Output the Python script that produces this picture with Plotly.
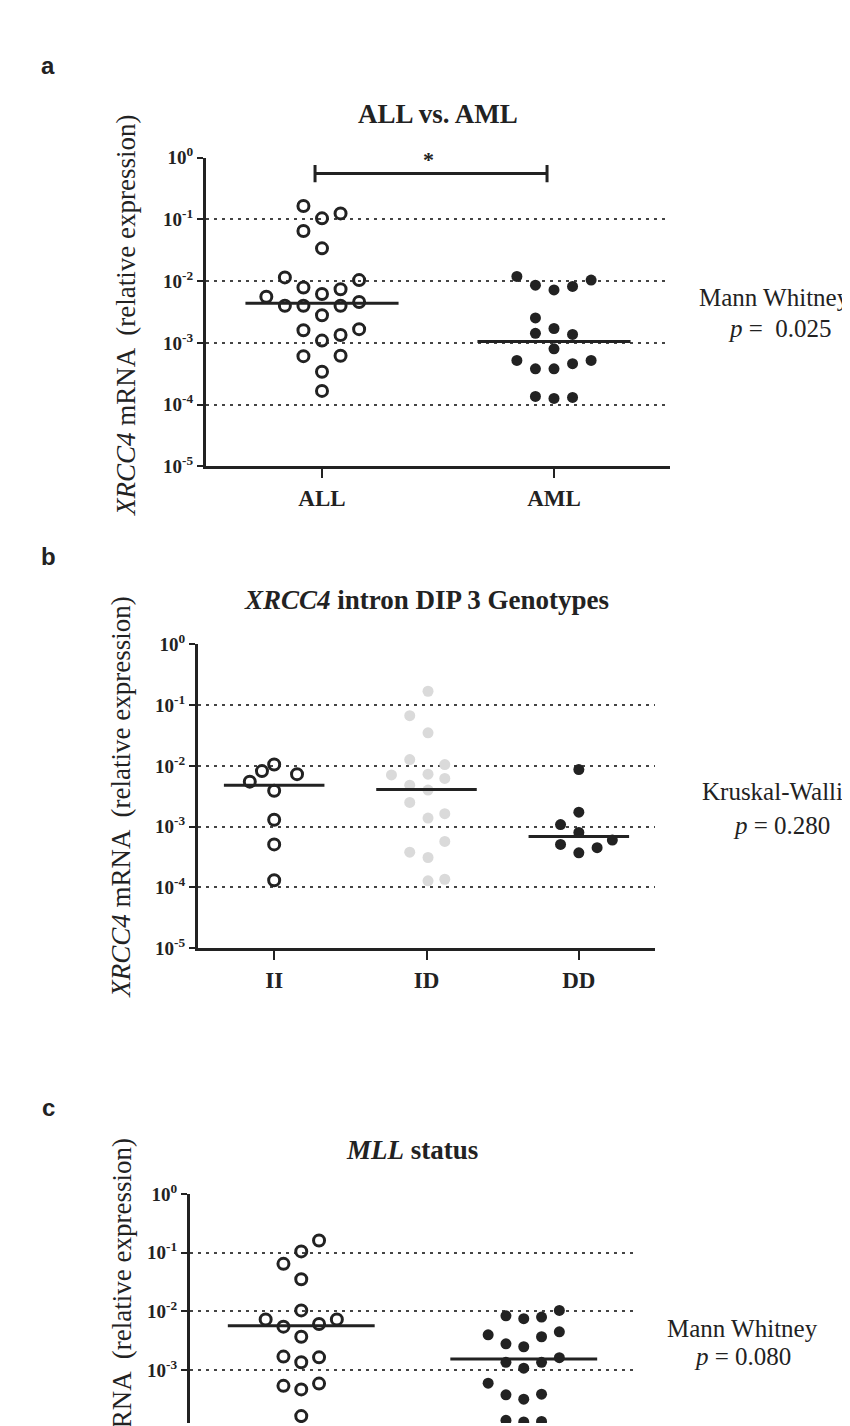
import plotly.graph_objects as go

# panel a: ALL vs AML
all_vals = [0.165, 0.104, 0.125, 0.065, 0.034, 0.0115, 0.0104, 0.0079, 0.0074, 0.0062, 0.0056, 0.0046,
            0.0040, 0.0040, 0.0040, 0.0028, 0.0016, 0.00167, 0.00134, 0.00109, 0.00061, 0.00062, 0.00034, 0.000167]
all_dx = [-0.08, 0, 0.08, -0.08, 0, -0.16, 0.16, -0.08, 0.08, 0, -0.24, 0.16,
          -0.16, -0.08, 0.08, 0, -0.08, 0.16, 0.08, 0, -0.08, 0.08, 0, 0]
aml_vals = [0.0119, 0.0104, 0.0086, 0.0082, 0.0072, 0.00254, 0.00171, 0.00143, 0.00137, 0.0008,
            0.00052, 0.00052, 0.00046, 0.00038, 0.00038, 0.000136, 0.000126, 0.000131]
aml_dx = [-0.16, 0.16, -0.08, 0.08, 0, -0.08, 0, -0.08, 0.08, 0, -0.16, 0.16, 0.08, -0.08, 0, -0.08, 0, 0.08]
a_cats = ['ALL', 'AML']
a_medians = [0.0044, 0.00105]
bracket_y = 0.556

# panel b: XRCC4 intron DIP 3 genotypes
ii_vals = [0.0055, 0.0082, 0.0105, 0.0073, 0.0039, 0.0013, 0.00051, 0.000131]
ii_dx = [-0.16, -0.08, 0, 0.15, 0, 0, 0, 0]
id_vals = [0.169, 0.067, 0.035, 0.0127, 0.0105, 0.0071, 0.0073, 0.0062, 0.0048, 0.0040, 0.0025, 0.00138,
           0.00163, 0.00057, 0.00038, 0.00031, 0.000128, 0.000136]
id_dx = [0.01, -0.11, 0.01, -0.11, 0.12, -0.23, 0.01, 0.12, -0.11, 0.01, -0.11, 0.01,
         0.12, 0.12, -0.11, 0.01, 0.01, 0.12]
dd_vals = [0.0087, 0.00173, 0.00108, 0.0008, 0.0006, 0.00051, 0.00045, 0.00037]
dd_dx = [0, 0, -0.12, 0, 0.22, -0.12, 0.12, 0]
b_cats = ['II', 'ID', 'DD']
b_medians = [0.0048, 0.0041, 0.00069]

# panel c: MLL status (category labels are below the visible area)
mll1_vals = [0.161, 0.105, 0.0645, 0.0353, 0.0104, 0.0073, 0.0073, 0.0055, 0.0061, 0.0037,
             0.0017, 0.00165, 0.00136, 0.00054, 0.00059, 0.00047, 0.000165]
mll1_dx = [0.08, 0, -0.08, 0, 0, -0.16, 0.16, -0.08, 0.08, 0, -0.08, 0.08, 0, -0.08, 0.08, 0, 0]
mll2_vals = [0.0084, 0.0075, 0.008, 0.0104, 0.004, 0.0045, 0.0037, 0.0028, 0.0025, 0.00163,
             0.00136, 0.00136, 0.00108, 0.0006, 0.00038, 0.00039, 0.00032, 0.00014, 0.000131, 0.000134]
mll2_dx = [-0.08, 0, 0.08, 0.16, -0.16, 0.16, 0.08, -0.08, 0, 0.16,
           -0.08, 0.08, 0, -0.16, -0.08, 0.08, 0, -0.08, 0, 0.08]
c_medians = [0.0057, 0.00155]

decades = [1e-5, 1e-4, 1e-3, 1e-2, 1e-1, 1]
decade_text = ['10<sup>-5</sup>', '10<sup>-4</sup>', '10<sup>-3</sup>', '10<sup>-2</sup>', '10<sup>-1</sup>', '10<sup>0</sup>']

W, H = 850, 1426
SERIF = 'Liberation Serif, Times New Roman, serif'
INK = '#222222'
HALF = 0.33


def px(x):
    return x / W


def py(y):
    return 1 - y / H


fig = go.Figure()

open_marker = dict(symbol='circle-open', size=11, color=INK, line=dict(width=3, color=INK))
solid_marker = dict(symbol='circle', size=11, color=INK)
grey_marker = dict(symbol='circle', size=11, color='#dadada')


def add_group(vals, dx, pos, marker, ax):
    fig.add_trace(go.Scatter(x=[pos + d for d in dx], y=vals, mode='markers', marker=marker,
                             xaxis='x' + ax, yaxis='y' + ax, showlegend=False))


def add_median(val, pos, ax):
    fig.add_trace(go.Scatter(x=[pos - HALF, pos + HALF], y=[val, val], mode='lines',
                             line=dict(color=INK, width=3), xaxis='x' + ax, yaxis='y' + ax,
                             showlegend=False))


# panel a
add_group(all_vals, all_dx, 0, open_marker, '')
add_group(aml_vals, aml_dx, 1, solid_marker, '')
for i, m in enumerate(a_medians):
    add_median(m, i, '')
fig.add_trace(go.Scatter(x=[-0.03, -0.03, None, -0.03, 0.97, None, 0.97, 0.97],
                         y=[0.40, 0.76, None, bracket_y, bracket_y, None, 0.40, 0.76],
                         mode='lines', line=dict(color=INK, width=3), showlegend=False))

# panel b
add_group(ii_vals, ii_dx, 0, open_marker, '2')
add_group(id_vals, id_dx, 1, grey_marker, '2')
add_group(dd_vals, dd_dx, 2, solid_marker, '2')
for i, m in enumerate(b_medians):
    add_median(m, i, '2')

# panel c
add_group(mll1_vals, mll1_dx, 0, open_marker, '3')
add_group(mll2_vals, mll2_dx, 1, solid_marker, '3')
for i, m in enumerate(c_medians):
    add_median(m, i, '3')


def yax(domain, rng, anchor):
    return dict(type='log', range=rng, domain=domain, anchor=anchor,
                tickvals=decades, ticktext=decade_text, ticks='outside', ticklen=6, tickwidth=2,
                tickcolor=INK, showline=True, linewidth=3, linecolor=INK,
                showgrid=True, gridcolor='#444444', gridwidth=2, griddash='3px,5px',
                zeroline=False, tickfont=dict(family=SERIF, size=19, color=INK, weight='bold'))


def xax(domain, rng, cats, anchor, show=True):
    return dict(range=rng, domain=domain, anchor=anchor, tickvals=list(range(len(cats))), ticktext=cats,
                ticks='outside' if show else '', ticklen=9, tickwidth=2, tickcolor=INK,
                showline=show, linewidth=3, linecolor=INK, showgrid=False, zeroline=False,
                showticklabels=show, tickfont=dict(family=SERIF, size=23, color=INK, weight='bold'))


ya = yax([py(453), py(139)], [-5, 0], 'x')
yb = yax([py(943), py(634)], [-5, 0], 'x2')
yc = yax([0, py(1193)], [-3.9, 0], 'x3')

xa = xax([px(198), px(662)], [-0.5, 1.5], a_cats, 'y')
xb = xax([px(190), px(647)], [-0.5, 2.5], b_cats, 'y2')
xc = xax([px(182), px(627)], [-0.5, 1.5], ['', ''], 'y3', show=False)

ann = []


def text(x, y, s, size, family=SERIF, bold=False, angle=0, anchor='center'):
    ann.append(dict(x=px(x), y=py(y), xref='paper', yref='paper', text=s, showarrow=False,
                    xanchor=anchor, yanchor='middle', textangle=angle, borderpad=0,
                    font=dict(family=family, size=size, color=INK, weight='bold' if bold else 'normal')))


# panel letters
for lbl, y in [('a', 45), ('b', 545), ('c', 1105)]:
    text(40, y, lbl, 24, family='Liberation Sans, Arial, sans-serif', bold=True)

# titles
text(430, 95, 'ALL vs. AML', 27, bold=True)
text(418, 589, '<i>XRCC4</i> intron DIP 3 Genotypes', 27, bold=True)
text(404, 1148, '<i>MLL</i> status', 27, bold=True)

# y-axis titles
ylab = '<i>XRCC4</i> mRNA  (relative expression)'
text(118, 300, ylab, 27, angle=-90)
text(113, 790, ylab, 27, angle=-90)
text(114, 1341, ylab, 27, angle=-90)

# significance star
text(420, 141, '*', 22, bold=True)

# statistics
text(690, 281, 'Mann Whitney', 25, anchor='left')
text(772, 313, '<i>p</i> =  0.025', 25)
text(693, 784, 'Kruskal-Wallis', 25, anchor='left')
text(773, 818, '<i>p</i> = 0.280', 25)
text(734, 1330, 'Mann Whitney', 25)
text(734, 1358, '<i>p</i> = 0.080', 25)

fig.update_layout(
    width=W, height=H, margin=dict(l=0, r=0, t=0, b=0),
    paper_bgcolor='white', plot_bgcolor='white',
    xaxis=xa, yaxis=ya, xaxis2=xb, yaxis2=yb, xaxis3=xc, yaxis3=yc,
    annotations=ann, showlegend=False,
)

fig.write_html("out.html")
